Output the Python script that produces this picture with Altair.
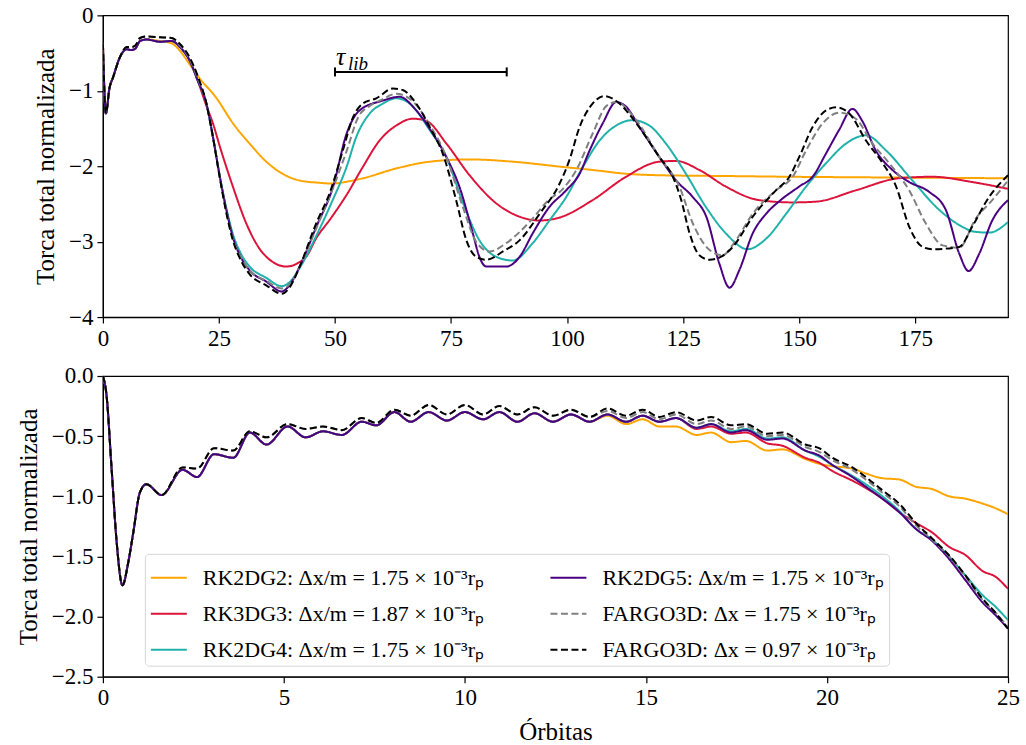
import altair as alt
import pandas as pd

FONT = "Liberation Serif"

LABELS = [
    "RK2DG2: Δx/m = 1.75 × 10⁻³rₚ",
    "RK3DG3: Δx/m = 1.87 × 10⁻³rₚ",
    "RK2DG4: Δx/m = 1.75 × 10⁻³rₚ",
    "RK2DG5: Δx/m = 1.75 × 10⁻³rₚ",
    "FARGO3D: Δx = 1.75 × 10⁻³rₚ",
    "FARGO3D: Δx = 0.97 × 10⁻³rₚ",
]
COLORS = ["#FFA500", "#DC143C", "#20B2AA", "#4B0082", "#808080", "#000000"]
DASHES = [[1, 0], [1, 0], [1, 0], [1, 0], [7, 3.5], [7, 3.5]]

# ---------------- top panel: (orbits, normalised torque) ----------------
TOP_ORANGE = [(0, -0.37), (0.65, -1.30), (1.4, -0.97), (2.2, -0.82), (3.7, -0.55), (5.1, -0.45),
              (6.2, -0.46), (7.0, -0.44), (8.0, -0.34), (9.4, -0.32), (12.3, -0.34), (14.8, -0.37),
              (16.6, -0.47), (18.7, -0.65), (20.4, -0.80), (24.5, -1.10), (28.0, -1.43), (31.6, -1.70),
              (35.2, -1.94), (38.7, -2.10), (42.4, -2.19), (46.7, -2.22), (49.5, -2.23), (53.0, -2.20),
              (56.0, -2.16), (63.2, -2.03), (70.4, -1.94), (79.0, -1.91), (88.3, -1.94), (99.1, -2.01),
              (105.5, -2.05), (112.7, -2.10), (119.9, -2.12), (134.0, -2.13), (148.0, -2.14),
              (170.0, -2.15), (195.0, -2.16)]
TOP_RED = [(0, -0.37), (0.65, -1.30), (1.4, -0.97), (2.2, -0.82), (3.7, -0.55), (5.1, -0.45),
           (6.2, -0.46), (7.0, -0.44), (8.0, -0.34), (9.4, -0.32), (12.3, -0.35), (14.8, -0.34),
           (16.6, -0.42), (18.7, -0.60), (20.4, -0.86), (22.3, -1.20), (23.7, -1.43), (25.2, -1.74),
           (28.0, -2.27), (30.9, -2.76), (33.7, -3.09), (36.6, -3.27), (39.5, -3.33), (42.4, -3.27),
           (43.8, -3.20), (46.0, -2.95), (49.0, -2.70), (52.5, -2.38), (56.0, -2.01), (59.6, -1.66),
           (63.2, -1.46), (66.8, -1.37), (69.7, -1.40), (74.0, -1.70), (79.0, -2.12), (84.7, -2.49),
           (89.8, -2.67), (94.1, -2.72), (98.4, -2.68), (105.5, -2.45), (112.7, -2.14), (119.9, -1.94),
           (123.5, -1.93), (128.5, -2.05), (134.2, -2.27), (141.4, -2.45), (148.6, -2.48),
           (153.6, -2.47), (162.2, -2.32), (171.5, -2.16), (178.7, -2.14), (187.3, -2.21), (195.0, -2.30)]
TOP_TEAL = [(0, -0.37), (0.65, -1.30), (1.4, -0.97), (2.2, -0.82), (3.7, -0.55), (5.1, -0.45),
            (6.2, -0.46), (7.0, -0.44), (8.0, -0.34), (9.4, -0.32), (12.3, -0.35), (14.8, -0.34),
            (16.6, -0.42), (18.7, -0.60), (20.4, -0.86), (22.3, -1.17), (23.7, -1.61), (25.2, -2.14),
            (26.6, -2.56), (28.0, -2.90), (29.5, -3.13), (31.6, -3.33), (35.2, -3.48), (38.5, -3.59),
            (40.5, -3.52), (42.4, -3.35), (46.0, -2.92), (49.5, -2.45), (52.5, -2.01), (54.6, -1.61),
            (57.5, -1.30), (60.3, -1.17), (63.2, -1.10), (66.1, -1.17), (70.4, -1.52), (74.0, -1.88),
            (77.6, -2.49), (81.1, -2.98), (84.7, -3.20), (88.3, -3.25), (92.6, -3.02), (96.2, -2.72),
            (99.8, -2.41), (103.4, -2.01), (107.0, -1.66), (110.6, -1.46), (114.1, -1.39),
            (117.7, -1.46), (121.3, -1.70), (125.6, -2.10), (129.9, -2.54), (134.2, -2.89),
            (138.9, -3.10), (142.9, -2.96), (147.2, -2.63), (151.5, -2.27), (155.8, -1.96),
            (160.1, -1.70), (164.4, -1.59), (168.7, -1.79), (174.4, -2.19), (180.2, -2.58),
            (184.5, -2.78), (188.0, -2.87), (191.0, -2.88), (195.0, -2.74)]
TOP_PURPLE = [(0, -0.37), (0.65, -1.30), (1.4, -0.97), (2.2, -0.82), (3.7, -0.55), (5.1, -0.45),
              (6.2, -0.46), (7.0, -0.44), (8.0, -0.34), (9.4, -0.32), (12.3, -0.35), (14.8, -0.34),
              (16.6, -0.42), (18.7, -0.60), (20.4, -0.86), (22.3, -1.17), (23.7, -1.61), (25.2, -2.14),
              (26.6, -2.58), (28.0, -2.94), (29.5, -3.18), (31.6, -3.38), (35.2, -3.53), (38.5, -3.66),
              (40.5, -3.55), (42.4, -3.33), (46.0, -2.80), (49.6, -2.27), (52.5, -1.57), (55.3, -1.26),
              (60.3, -1.13), (63.9, -1.08), (67.5, -1.26), (71.1, -1.57), (74.0, -1.88), (76.8, -2.27),
              (79.7, -2.89), (81.1, -3.20), (82.6, -3.33), (86.9, -3.33), (89.8, -3.20), (92.6, -2.89),
              (96.2, -2.54), (99.8, -2.32), (102.7, -2.10), (104.8, -1.80), (107.7, -1.43),
              (110.6, -1.15), (112.7, -1.21), (115.6, -1.48), (119.9, -1.88), (123.5, -2.19),
              (127.1, -2.41), (130.0, -2.67), (132.8, -3.29), (135.0, -3.61), (137.1, -3.38),
              (140.0, -2.89), (142.9, -2.63), (146.0, -2.45), (150.0, -2.27), (152.9, -2.14),
              (155.8, -1.83), (158.6, -1.52), (161.5, -1.24), (163.6, -1.40), (166.5, -1.79),
              (170.1, -2.05), (173.7, -2.21), (178.0, -2.34), (181.6, -2.58), (184.5, -3.16),
              (186.5, -3.39), (188.8, -3.16), (191.6, -2.72), (195.0, -2.45)]
TOP_GRAY = [(0, -0.37), (0.65, -1.30), (1.4, -0.97), (2.2, -0.82), (3.7, -0.55), (5.1, -0.42),
            (6.2, -0.42), (7.0, -0.40), (8.0, -0.30), (9.4, -0.28), (12.3, -0.29), (14.8, -0.30),
            (16.6, -0.40), (18.7, -0.58), (20.4, -0.83), (22.3, -1.17), (23.7, -1.61), (25.2, -2.15),
            (26.6, -2.60), (28.0, -2.96), (29.5, -3.18), (31.6, -3.38), (35.2, -3.52), (38.5, -3.62),
            (40.5, -3.55), (42.4, -3.33), (46.0, -2.82), (49.5, -2.30), (52.5, -1.80), (55.0, -1.35),
            (57.5, -1.20), (60.0, -1.12), (63.2, -1.04), (66.0, -1.10), (70.4, -1.45), (74.0, -1.88),
            (77.6, -2.55), (80.4, -3.00), (83.3, -3.13), (86.9, -3.02), (91.9, -2.74), (96.0, -2.45),
            (99.1, -2.30), (102.0, -2.05), (105.5, -1.57), (108.5, -1.20), (110.6, -1.15),
            (114.9, -1.39), (119.9, -1.88), (124.2, -2.27), (127.1, -2.76), (130.7, -3.11),
            (133.5, -3.18), (136.4, -2.98), (140.0, -2.63), (145.0, -2.32), (148.6, -2.14),
            (151.5, -1.79), (155.1, -1.43), (158.6, -1.29), (162.2, -1.37), (165.8, -1.70),
            (169.4, -1.96), (173.7, -2.32), (177.3, -2.76), (180.9, -3.05), (184.5, -3.08),
            (188.0, -2.70), (191.6, -2.45), (195.0, -2.19)]
TOP_BLACK = [(0, -0.37), (0.65, -1.30), (1.4, -0.97), (2.2, -0.82), (3.7, -0.55), (5.1, -0.42),
             (6.2, -0.42), (7.0, -0.40), (8.0, -0.30), (9.4, -0.28), (12.3, -0.29), (14.8, -0.30),
             (16.6, -0.38), (18.7, -0.56), (20.4, -0.80), (22.3, -1.17), (23.7, -1.61), (25.2, -2.16),
             (26.6, -2.62), (28.0, -2.98), (29.5, -3.22), (31.6, -3.43), (35.2, -3.58), (38.5, -3.69),
             (40.5, -3.58), (42.4, -3.33), (46.0, -2.75), (48.9, -2.35), (51.7, -1.79), (53.9, -1.35),
             (56.0, -1.17), (58.9, -1.10), (62.5, -0.97), (64.6, -0.99), (67.5, -1.17), (70.4, -1.48),
             (73.2, -1.83), (76.1, -2.45), (78.3, -2.98), (80.4, -3.20), (82.6, -3.24), (86.2, -3.13),
             (89.8, -2.98), (94.1, -2.63), (98.4, -2.23), (100.5, -1.92), (102.7, -1.48),
             (105.5, -1.17), (108.0, -1.07), (111.3, -1.17), (114.9, -1.43), (119.9, -1.88),
             (122.8, -2.14), (124.6, -2.45), (126.4, -2.89), (128.5, -3.18), (130.7, -3.24),
             (133.2, -3.20), (135.7, -3.07), (140.0, -2.67), (145.0, -2.32), (147.9, -2.14),
             (150.0, -1.88), (152.9, -1.48), (155.8, -1.26), (158.0, -1.22), (160.8, -1.30),
             (164.4, -1.66), (168.0, -1.96), (170.9, -2.27), (173.7, -2.80), (176.6, -3.07),
             (178.8, -3.10), (184.5, -3.07), (187.3, -2.80), (190.9, -2.41), (195.0, -2.12)]
TOP_SERIES = [TOP_ORANGE, TOP_RED, TOP_TEAL, TOP_PURPLE, TOP_GRAY, TOP_BLACK]

TAU_START, TAU_END, TAU_Y = 50, 87, -0.75

# ---------------- bottom panel: first 25 orbits ----------------
BOT_X = [0, 0.1, 0.24, 0.38, 0.54, 0.7, 0.84, 1.02, 1.2, 1.62, 2.2, 2.6, 3.07, 3.6, 4.06,
         4.52, 5.1, 5.6, 6.08, 6.6, 7.15, 7.55, 8.05, 8.5, 9.0, 9.5, 10.0, 10.5, 10.95, 11.45,
         11.92, 12.43, 12.93, 13.44, 13.94, 14.45, 14.91, 15.37, 15.83, 16.4, 16.8, 17.35, 17.76,
         18.35, 18.77, 19.4, 19.78, 20.15, 20.7, 21.07, 21.53, 21.99, 22.45, 22.9, 23.37, 23.83,
         24.29, 24.66, 25.0]
BOT_EARLY_SOLID = [0.0, -0.16, -0.77, -1.38, -1.74, -1.55, -1.30, -0.97, -0.90, -0.99, -0.78, -0.84,
                   -0.65, -0.68, -0.47, -0.57, -0.42, -0.51, -0.46, -0.49, -0.38, -0.41, -0.30, -0.38,
                   -0.30, -0.37, -0.30, -0.36, -0.30, -0.38, -0.31, -0.38, -0.32, -0.38]
BOT_EARLY_DASHED = [0.0, -0.16, -0.77, -1.38, -1.74, -1.55, -1.30, -0.97, -0.90, -0.99, -0.76, -0.77,
                    -0.60, -0.62, -0.46, -0.51, -0.40, -0.44, -0.42, -0.45, -0.35, -0.39, -0.28, -0.33,
                    -0.24, -0.32, -0.24, -0.32, -0.25, -0.32, -0.26, -0.33, -0.28, -0.34]
BOT_TAIL_ORANGE = [-0.33, -0.40, -0.36, -0.42, -0.42, -0.49, -0.47, -0.55, -0.54, -0.62, -0.61, -0.69,
                   -0.73, -0.75, -0.77, -0.81, -0.85, -0.86, -0.92, -0.94, -1.00, -1.02, -1.06, -1.10, -1.15]
BOT_TAIL_RED = [-0.32, -0.38, -0.33, -0.38, -0.35, -0.44, -0.42, -0.48, -0.47, -0.56, -0.58, -0.68,
                -0.72, -0.79, -0.87, -0.93, -1.02, -1.13, -1.22, -1.30, -1.42, -1.49, -1.62, -1.67, -1.77]
BOT_TAIL_TEAL = [-0.32, -0.38, -0.33, -0.38, -0.35, -0.43, -0.40, -0.46, -0.44, -0.52, -0.51, -0.62,
                 -0.67, -0.74, -0.83, -0.90, -1.00, -1.12, -1.27, -1.36, -1.50, -1.66, -1.82, -1.92, -2.03]
BOT_TAIL_PURPLE = [-0.32, -0.38, -0.33, -0.38, -0.35, -0.43, -0.40, -0.47, -0.45, -0.53, -0.52, -0.62,
                   -0.66, -0.74, -0.84, -0.92, -1.02, -1.13, -1.27, -1.37, -1.52, -1.70, -1.88, -1.99, -2.10]
BOT_TAIL_GRAY = [-0.29, -0.35, -0.30, -0.36, -0.32, -0.40, -0.37, -0.44, -0.42, -0.50, -0.49, -0.59,
                 -0.63, -0.70, -0.78, -0.86, -0.97, -1.08, -1.24, -1.36, -1.50, -1.67, -1.86, -1.97, -2.09]
BOT_TAIL_BLACK = [-0.27, -0.33, -0.28, -0.34, -0.30, -0.37, -0.34, -0.41, -0.40, -0.48, -0.47, -0.57,
                  -0.60, -0.68, -0.76, -0.84, -0.95, -1.06, -1.22, -1.35, -1.49, -1.66, -1.85, -1.97, -2.10]
BOT_SERIES = [BOT_EARLY_SOLID + BOT_TAIL_ORANGE, BOT_EARLY_SOLID + BOT_TAIL_RED,
              BOT_EARLY_SOLID + BOT_TAIL_TEAL, BOT_EARLY_SOLID + BOT_TAIL_PURPLE,
              BOT_EARLY_DASHED + BOT_TAIL_GRAY, BOT_EARLY_DASHED + BOT_TAIL_BLACK]

TOP_XTICKS = [0, 25, 50, 75, 100, 125, 150, 175]
TOP_YTICKS = [-4, -3, -2, -1, 0]
BOT_XTICKS = [0, 5, 10, 15, 20, 25]
BOT_YTICKS = [-2.5, -2.0, -1.5, -1.0, -0.5, 0.0]

PANEL_W = 906

# ---------------- tables ----------------
top_rows = []
for lab, pts in zip(LABELS, TOP_SERIES):
    for x, y in pts:
        top_rows.append({"x": x, "y": y, "serie": lab})
df_top = pd.DataFrame(top_rows)

bot_rows = []
for lab, ys in zip(LABELS, BOT_SERIES):
    for x, y in zip(BOT_X, ys):
        bot_rows.append({"x": x, "y": y, "serie": lab})
df_bot = pd.DataFrame(bot_rows)

color_scale = alt.Scale(domain=LABELS, range=COLORS)
dash_scale = alt.Scale(domain=LABELS, range=DASHES)

legend = alt.Legend(
    title=None, orient="none", legendX=42, legendY=178, columns=2,
    symbolType="stroke", symbolSize=1296, symbolStrokeWidth=2,
    labelFont=FONT, labelFontSize=22, labelLimit=800, labelOffset=15,
    columnPadding=62, rowPadding=6, padding=5,
    strokeColor="#d6d6d6", cornerRadius=4, fillColor="white",
)


def lines(df, xenc, yenc, leg):
    layers = []
    for lab in LABELS:  # drawing order: orange ... black on top
        d = df[df["serie"] == lab]
        layers.append(
            alt.Chart(d).mark_line(strokeWidth=2, interpolate="monotone", clip=True).encode(
                x=xenc, y=yenc,
                color=alt.Color("serie:N", scale=color_scale, legend=leg),
                strokeDash=alt.StrokeDash("serie:N", scale=dash_scale, legend=leg),
            )
        )
    return layers


top_x = alt.X("x:Q", scale=alt.Scale(domain=[0, 195], nice=False, zero=False),
              axis=alt.Axis(values=TOP_XTICKS, title=None))
top_y = alt.Y("y:Q", scale=alt.Scale(domain=[-4, 0], nice=False, zero=False),
              axis=alt.Axis(values=TOP_YTICKS, format="d", title="Torca total normalizada"))

ann = pd.DataFrame({"x": [TAU_START], "x2": [TAU_END], "y": [TAU_Y]})
caps = pd.DataFrame({"x": [TAU_START, TAU_END], "y": [TAU_Y, TAU_Y]})
tau_rule = alt.Chart(ann).mark_rule(color="black", strokeWidth=2).encode(
    x="x:Q", x2="x2:Q", y="y:Q")
tau_caps = alt.Chart(caps).mark_tick(orient="vertical", size=9, thickness=2, color="black",
                                     opacity=1).encode(x="x:Q", y="y:Q")
tau_txt = alt.Chart(ann).mark_text(text="τ", font=FONT, fontStyle="italic", fontSize=26,
                                   align="left", baseline="alphabetic", dx=1, dy=-7,
                                   color="black").encode(x="x:Q", y="y:Q")
lib_txt = alt.Chart(ann).mark_text(text="lib", font=FONT, fontStyle="italic", fontSize=19,
                                   align="left", baseline="alphabetic", dx=13, dy=-2,
                                   color="black").encode(x="x:Q", y="y:Q")

top = alt.layer(*lines(df_top, top_x, top_y, None), tau_rule, tau_caps, tau_txt, lib_txt).properties(
    width=PANEL_W, height=302)

bot_x = alt.X("x:Q", scale=alt.Scale(domain=[0, 25], nice=False, zero=False),
              axis=alt.Axis(values=BOT_XTICKS, format="d", title="Órbitas"))
bot_y = alt.Y("y:Q", scale=alt.Scale(domain=[-2.5, 0], nice=False, zero=False),
              axis=alt.Axis(values=BOT_YTICKS, format=".1f", title="Torca total normalizada"))

bottom = alt.layer(*lines(df_bot, bot_x, bot_y, legend)).properties(width=PANEL_W, height=301)

chart = (
    alt.vconcat(top, bottom, spacing=13)
    .resolve_scale(x="independent", y="independent")
    .resolve_axis(x="independent", y="independent")
    .resolve_legend(color="independent", strokeDash="independent")
    .properties(padding={"left": 15, "top": 3, "right": 5, "bottom": 5}, background="white")
    .configure(font=FONT)
    .configure_view(stroke="black", strokeWidth=1.2)
    .configure_axis(
        labelFont=FONT, titleFont=FONT, labelFontSize=23, titleFontSize=25,
        titleFontWeight="normal", labelColor="black", titleColor="black",
        domainColor="black", tickColor="black", domainWidth=1.2, tickWidth=1.2,
        tickSize=6, grid=False, labelPadding=4, titlePadding=10,
        labelFlush=False, labelOverlap=False,
    )
)

chart.save("out.html", embed_options={"renderer": "svg", "actions": False})
